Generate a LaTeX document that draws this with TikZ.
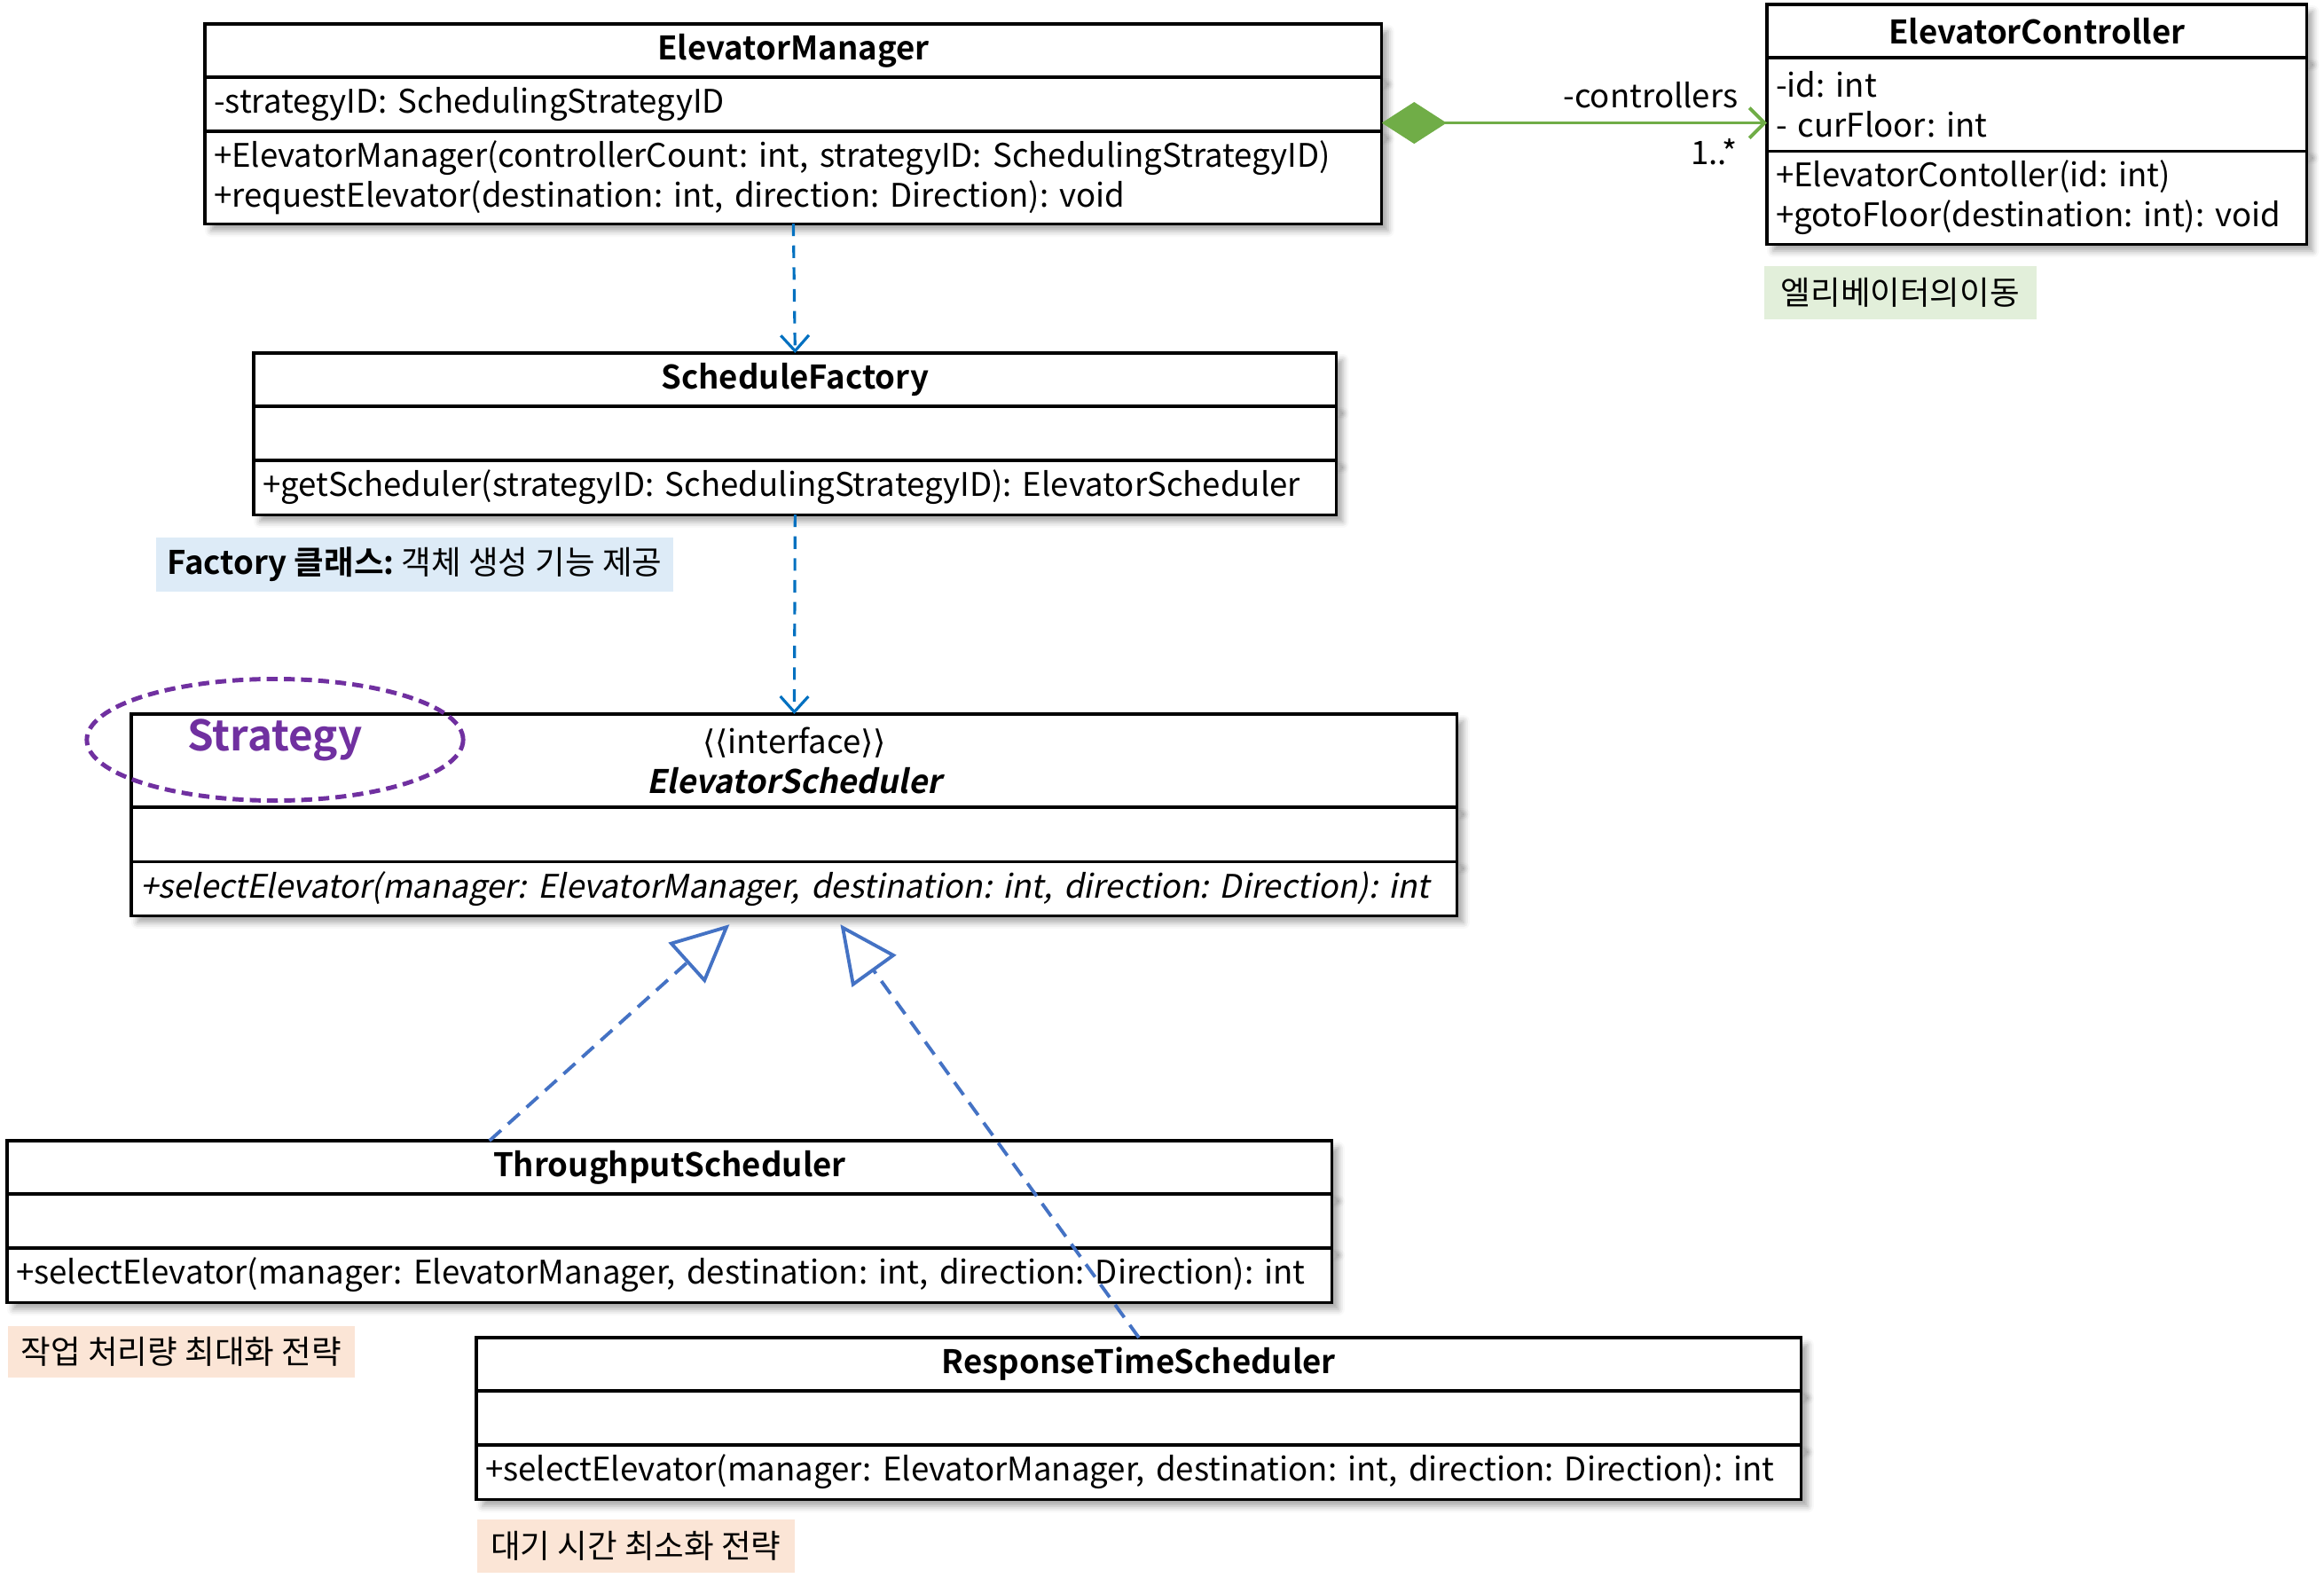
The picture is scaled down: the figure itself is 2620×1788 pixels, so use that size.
\documentclass[tikz,border=0pt]{standalone}
\usepackage{fontspec}
\setmainfont{Noto Sans CJK KR}[
  BoldFont={Noto Sans CJK KR Bold},
  ItalicFont={Noto Sans CJK KR}, ItalicFeatures={FakeSlant=0.2},
  BoldItalicFont={Noto Sans CJK KR Bold}, BoldItalicFeatures={FakeSlant=0.2}]
\newfontfamily\symfont{DejaVu Sans}
\frenchspacing
\usetikzlibrary{positioning,shapes.geometric,arrows.meta,shadows.blur}
\definecolor{depblue}{HTML}{0070C0}
\definecolor{realblue}{HTML}{4472C4}
\definecolor{compgreen}{HTML}{70AD47}
\definecolor{strpurple}{HTML}{7030A0}
\definecolor{notegreen}{HTML}{E2EFDA}
\definecolor{noteblue}{HTML}{DDEBF7}
\definecolor{noteorange}{HTML}{FBE5D6}

\begin{document}
\begin{tikzpicture}[x=0.01cm, y=-0.01cm, font=\fontsize{10.4}{12.8}\selectfont,
    cls/.style={draw, line width=0.9pt, fill=white, inner xsep=0.1cm,
                inner ysep=0pt, outer sep=0pt,
                blur shadow={shadow xshift=0.07cm, shadow yshift=-0.08cm,
                             shadow blur radius=0.07cm, shadow opacity=35}},
    head/.style={cls, anchor=north west, align=center, font=\fontsize{10.4}{12.8}\selectfont\bfseries},
    body/.style={cls, align=left},
    note/.style={anchor=north west, inner xsep=0.1cm, inner ysep=0pt},
    depend/.style={depblue, line width=0.9pt, dash pattern=on 4pt off 3pt,
                   -{Straight Barb[length=5pt, width=9pt]}},
    realize/.style={realblue, line width=1.1pt, dash pattern=on 5pt off 3pt,
                    -{Triangle[fill=white, length=0.65cm, width=0.61cm]}},
    compose/.style={compgreen, line width=1.1pt,
                    {Diamond[length=0.73cm, width=0.47cm]}-{Straight Barb[length=0.17cm, width=0.34cm]}}]

\useasboundingbox (0,0) rectangle (2620,1788);

% ElevatorManager
\node[head, text width=13.06cm, minimum height=0.6cm] (mgr) at (231,27) {ElevatorManager};
\node[body, text width=13.06cm, minimum height=0.61cm, below=0pt of mgr] (mgr-attr)
    {-strategyID: SchedulingStrategyID};
\node[body, text width=13.06cm, minimum height=1.04cm, below=0pt of mgr-attr] (mgr-ops)
    {+ElevatorManager(controllerCount: int, strategyID: SchedulingStrategyID)\\
     +requestElevator(destination: int, direction: Direction): void};

% ElevatorController
\node[head, text width=5.88cm, minimum height=0.6cm] (ctl) at (1992,5) {ElevatorController};
\node[body, text width=5.88cm, minimum height=1.05cm, below=0pt of ctl] (ctl-attr)
    {-id: int\\- curFloor: int};
\node[body, text width=5.88cm, minimum height=1.05cm, below=0pt of ctl-attr] (ctl-ops)
    {+ElevatorContoller(id: int)\\+gotoFloor(destination: int): void};
\node[note, fill=notegreen, minimum width=3.07cm, minimum height=0.6cm] (move-note)
    at (1988,299) {엘리베이터의이동};

% ScheduleFactory
\node[head, text width=12cm, minimum height=0.6cm] (fac) at (286,398) {ScheduleFactory};
\node[body, text width=12cm, minimum height=0.61cm, below=0pt of fac] (fac-attr) {};
\node[body, text width=12cm, minimum height=0.61cm, below=0pt of fac-attr] (fac-ops)
    {+getScheduler(strategyID: SchedulingStrategyID): ElevatorScheduler};
\node[note, fill=noteblue, minimum width=5.83cm, minimum height=0.61cm] (fac-note)
    at (175,605) {\textbf{Factory 클래스:} 객체 생성 기능 제공};

% ElevatorScheduler
\node[head, text width=14.74cm, minimum height=1.05cm, font=\fontsize{10.4}{12.8}\selectfont] (es) at (148,805)
    {{\symfont ⟨⟨}interface{\symfont ⟩⟩}\\\textbf{\textit{ElevatorScheduler}}};
\node[body, text width=14.74cm, minimum height=0.61cm, below=0pt of es] (es-attr) {};
\node[body, text width=14.74cm, minimum height=0.61cm, below=0pt of es-attr, font=\fontsize{10.4}{12.8}\selectfont\itshape] (es-ops)
    {+selectElevator(manager: ElevatorManager, destination: int, direction: Direction): int};
\node[ellipse, draw=strpurple, line width=1.4pt, dash pattern=on 3.5pt off 2pt,
      minimum width=4.24cm, minimum height=1.37cm, text=strpurple,
      font=\fontsize{13.5}{16}\selectfont\bfseries] (strategy) at (310,834) {Strategy};

% ThroughputScheduler
\node[head, text width=14.73cm, minimum height=0.6cm] (thr) at (8,1286) {ThroughputScheduler};
\node[body, text width=14.73cm, minimum height=0.61cm, below=0pt of thr] (thr-attr) {};
\node[body, text width=14.73cm, minimum height=0.61cm, below=0pt of thr-attr] (thr-ops)
    {+selectElevator(manager: ElevatorManager, destination: int, direction: Direction): int};
\node[note, fill=noteorange, minimum width=3.91cm, minimum height=0.58cm] (thr-note)
    at (8,1494) {작업 처리량 최대화 전략};

% ResponseTimeScheduler
\node[head, text width=14.73cm, minimum height=0.6cm] (resp) at (537,1508) {ResponseTimeScheduler};
\node[body, text width=14.73cm, minimum height=0.61cm, below=0pt of resp] (resp-attr) {};
\node[body, text width=14.73cm, minimum height=0.61cm, below=0pt of resp-attr] (resp-ops)
    {+selectElevator(manager: ElevatorManager, destination: int, direction: Direction): int};
\node[note, fill=noteorange, minimum width=3.58cm, minimum height=0.6cm] (resp-note)
    at (537,1712) {대기 시간 최소화 전략};

% connectors
\draw[depend] (mgr-ops.south) -- (fac.north);
\draw[depend] (fac-ops.south) -- (es.north);
\draw[compose] ([yshift=-0.21cm]mgr-attr.east) -- ([yshift=-0.21cm]mgr-attr.east -| ctl-attr.west)
    node[at end, anchor=base east, xshift=-0.19cm, yshift=0.17cm, text=black] {-controllers}
    node[at end, anchor=base east, xshift=-0.2cm, yshift=-0.47cm, text=black] {1..*};
\draw[realize] ([xshift=-2.03cm]thr.north) -- ([xshift=-0.73cm, yshift=-0.1cm]es-ops.south);
\draw[realize] (resp.north) -- ([xshift=0.52cm, yshift=-0.1cm]es-ops.south);

\end{tikzpicture}
\end{document}
